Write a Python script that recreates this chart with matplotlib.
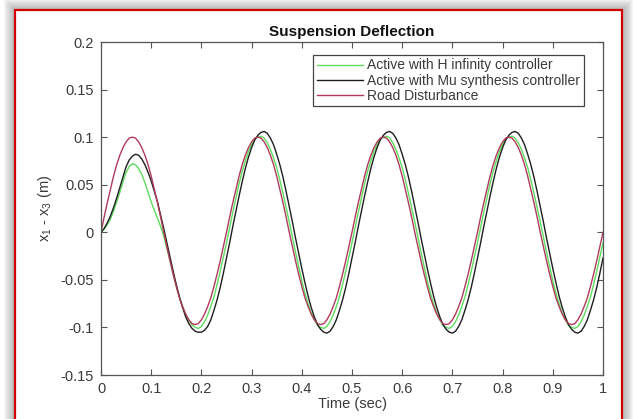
"""
Suspension deflection: H-infinity vs Mu-synthesis controller vs road disturbance
"""

### Import modules
import numpy as np
import matplotlib
matplotlib.use('Agg')
import matplotlib.pyplot as plt
from matplotlib.patches import Rectangle

time = np.linspace(0, 1, 161)

hinf = [0.000, 0.003, 0.008, 0.014, 0.022, 0.032, 0.042, 0.053, 0.063, 0.069, 0.072, 0.071, 0.067, 0.061, 0.052, 0.042, 0.032, 0.023, 0.015, 0.006,
        -0.004, -0.017, -0.030, -0.044, -0.057, -0.068, -0.078, -0.086, -0.093, -0.097, -0.100, -0.101, -0.099, -0.094, -0.087, -0.078, -0.068, -0.055, -0.041, -0.026,
        -0.011, 0.005, 0.021, 0.036, 0.051, 0.064, 0.075, 0.085, 0.092, 0.098, 0.100, 0.101, 0.099, 0.094, 0.087, 0.078, 0.068, 0.055, 0.041, 0.026,
        0.011, -0.005, -0.021, -0.036, -0.051, -0.064, -0.075, -0.085, -0.092, -0.098, -0.100, -0.101, -0.099, -0.094, -0.087, -0.078, -0.068, -0.055, -0.041, -0.026,
        -0.011, 0.005, 0.021, 0.036, 0.051, 0.064, 0.075, 0.085, 0.092, 0.098, 0.100, 0.101, 0.099, 0.094, 0.087, 0.078, 0.068, 0.055, 0.041, 0.026,
        0.011, -0.005, -0.021, -0.036, -0.051, -0.064, -0.075, -0.085, -0.092, -0.098, -0.100, -0.101, -0.099, -0.094, -0.087, -0.078, -0.068, -0.055, -0.041, -0.026,
        -0.011, 0.005, 0.021, 0.036, 0.051, 0.064, 0.075, 0.085, 0.092, 0.098, 0.100, 0.101, 0.099, 0.094, 0.087, 0.078, 0.068, 0.055, 0.041, 0.026,
        0.011, -0.005, -0.021, -0.036, -0.051, -0.064, -0.075, -0.085, -0.092, -0.098, -0.100, -0.101, -0.099, -0.094, -0.087, -0.078, -0.068, -0.055, -0.041, -0.026,
        -0.011]

musyn = [0.000, 0.004, 0.010, 0.017, 0.026, 0.036, 0.047, 0.058, 0.069, 0.076, 0.080, 0.082, 0.081, 0.077, 0.071, 0.063, 0.054, 0.043, 0.032, 0.018,
         0.004, -0.011, -0.026, -0.041, -0.055, -0.068, -0.079, -0.089, -0.096, -0.101, -0.104, -0.105, -0.105, -0.103, -0.099, -0.092, -0.082, -0.071, -0.058, -0.043,
         -0.027, -0.011, 0.006, 0.022, 0.038, 0.053, 0.067, 0.079, 0.089, 0.097, 0.102, 0.105, 0.106, 0.104, 0.099, 0.092, 0.082, 0.071, 0.058, 0.043,
         0.027, 0.011, -0.006, -0.022, -0.038, -0.053, -0.067, -0.079, -0.089, -0.097, -0.102, -0.105, -0.106, -0.104, -0.099, -0.092, -0.082, -0.071, -0.058, -0.043,
         -0.027, -0.011, 0.006, 0.022, 0.038, 0.053, 0.067, 0.079, 0.089, 0.097, 0.102, 0.105, 0.106, 0.104, 0.099, 0.092, 0.082, 0.071, 0.058, 0.043,
         0.027, 0.011, -0.006, -0.022, -0.038, -0.053, -0.067, -0.079, -0.089, -0.097, -0.102, -0.105, -0.106, -0.104, -0.099, -0.092, -0.082, -0.071, -0.058, -0.043,
         -0.027, -0.011, 0.006, 0.022, 0.038, 0.053, 0.067, 0.079, 0.089, 0.097, 0.102, 0.105, 0.106, 0.104, 0.099, 0.092, 0.082, 0.071, 0.058, 0.043,
         0.027, 0.011, -0.006, -0.022, -0.038, -0.053, -0.067, -0.079, -0.089, -0.097, -0.102, -0.105, -0.106, -0.104, -0.099, -0.092, -0.082, -0.071, -0.058, -0.043,
         -0.027]

road = [0.000, 0.016, 0.031, 0.045, 0.059, 0.071, 0.081, 0.089, 0.095, 0.099, 0.100, 0.099, 0.095, 0.089, 0.081, 0.071, 0.059, 0.045, 0.031, 0.016,
        0.000, -0.015, -0.030, -0.044, -0.057, -0.069, -0.078, -0.086, -0.092, -0.096, -0.097, -0.096, -0.092, -0.086, -0.078, -0.069, -0.057, -0.044, -0.030, -0.015,
        0.000, 0.016, 0.031, 0.045, 0.059, 0.071, 0.081, 0.089, 0.095, 0.099, 0.100, 0.099, 0.095, 0.089, 0.081, 0.071, 0.059, 0.045, 0.031, 0.016,
        0.000, -0.015, -0.030, -0.044, -0.057, -0.069, -0.078, -0.086, -0.092, -0.096, -0.097, -0.096, -0.092, -0.086, -0.078, -0.069, -0.057, -0.044, -0.030, -0.015,
        0.000, 0.016, 0.031, 0.045, 0.059, 0.071, 0.081, 0.089, 0.095, 0.099, 0.100, 0.099, 0.095, 0.089, 0.081, 0.071, 0.059, 0.045, 0.031, 0.016,
        0.000, -0.015, -0.030, -0.044, -0.057, -0.069, -0.078, -0.086, -0.092, -0.096, -0.097, -0.096, -0.092, -0.086, -0.078, -0.069, -0.057, -0.044, -0.030, -0.015,
        0.000, 0.016, 0.031, 0.045, 0.059, 0.071, 0.081, 0.089, 0.095, 0.099, 0.100, 0.099, 0.095, 0.089, 0.081, 0.071, 0.059, 0.045, 0.031, 0.016,
        0.000, -0.015, -0.030, -0.044, -0.057, -0.069, -0.078, -0.086, -0.092, -0.096, -0.097, -0.096, -0.092, -0.086, -0.078, -0.069, -0.057, -0.044, -0.030, -0.015,
        0.000]

labels = ['Active with H infinity controller',
          'Active with Mu synthesis controller',
          'Road Disturbance']

xticks = np.arange(0, 1.01, 0.1)
yticks = np.arange(-0.15, 0.201, 0.05)
xticklabels = ['0', '0.1', '0.2', '0.3', '0.4', '0.5', '0.6', '0.7', '0.8', '0.9', '1']
yticklabels = ['-0.15', '-0.1', '-0.05', '0', '0.05', '0.1', '0.15', '0.2']

###############################################################################
### Plot figure
plt.rcParams['font.family'] = ['Liberation Sans', 'DejaVu Sans']
plt.rcParams['mathtext.fontset'] = 'custom'
plt.rcParams['mathtext.rm'] = 'Liberation Sans'
plt.rcParams['mathtext.it'] = 'Liberation Sans'

txtcol = '#3a3a3a'

fig = plt.figure(figsize=(6.33, 4.19), dpi=100)
fig.patch.set_facecolor('white')

### Screenshot frame: soft shadow + red border
fx0, fx1 = 15/633., 622/633.
fy0, fy1 = -0.05, 1 - 10/419.
for i in range(10, 0, -1):
    fig.add_artist(Rectangle((fx0, fy0), fx1 - fx0, fy1 - fy0,
                             transform=fig.transFigure, fill=False,
                             edgecolor='grey', linewidth=1.6*i, alpha=0.07,
                             zorder=0))
fig.add_artist(Rectangle((fx0, fy0), fx1 - fx0, fy1 - fy0,
                         transform=fig.transFigure, facecolor='white',
                         edgecolor='#d00000', linewidth=1.6, zorder=0.5))

ax = fig.add_axes([101/633., 44/419., 502/633., 333/419.])
ax.set_zorder(2)

ax.plot(time, hinf, color='#5ddc5d', linewidth=1.0, label=labels[0])
ax.plot(time, musyn, color='#1e1e1e', linewidth=1.0, label=labels[1])
ax.plot(time, road, color='#b03a5a', linewidth=1.0, label=labels[2])

ax.set_xlim(0, 1)
ax.set_ylim(-0.15, 0.2)
ax.set_xticks(xticks)
ax.set_xticklabels(xticklabels)
ax.set_yticks(yticks)
ax.set_yticklabels(yticklabels)
ax.tick_params(direction='in', top=True, right=True, length=4, width=0.8,
               colors='#555555', labelcolor=txtcol, labelsize=10.5, pad=5)
for sp in ax.spines.values():
    sp.set_color('#555555')
    sp.set_linewidth(0.9)

ax.set_title('Suspension Deflection', fontsize=11, fontweight='bold',
             color='#111111', pad=4)
ax.set_xlabel('Time (sec)', fontsize=10.5, color=txtcol, labelpad=1)
ax.set_ylabel(r'x$_1$ - x$_3$ (m)', fontsize=10.5, color=txtcol, labelpad=5)

leg = ax.legend(loc='upper right', bbox_to_anchor=(0.962, 0.961),
                borderaxespad=0, fancybox=False, fontsize=10,
                handlelength=3.3, handletextpad=0.35, labelspacing=0.08,
                borderpad=0.25, framealpha=1)
leg.get_frame().set_edgecolor('#444444')
leg.get_frame().set_linewidth(0.9)
for t in leg.get_texts():
    t.set_color(txtcol)

plt.savefig('out.png', dpi=100)
print('Completed: Figure plotted!')
